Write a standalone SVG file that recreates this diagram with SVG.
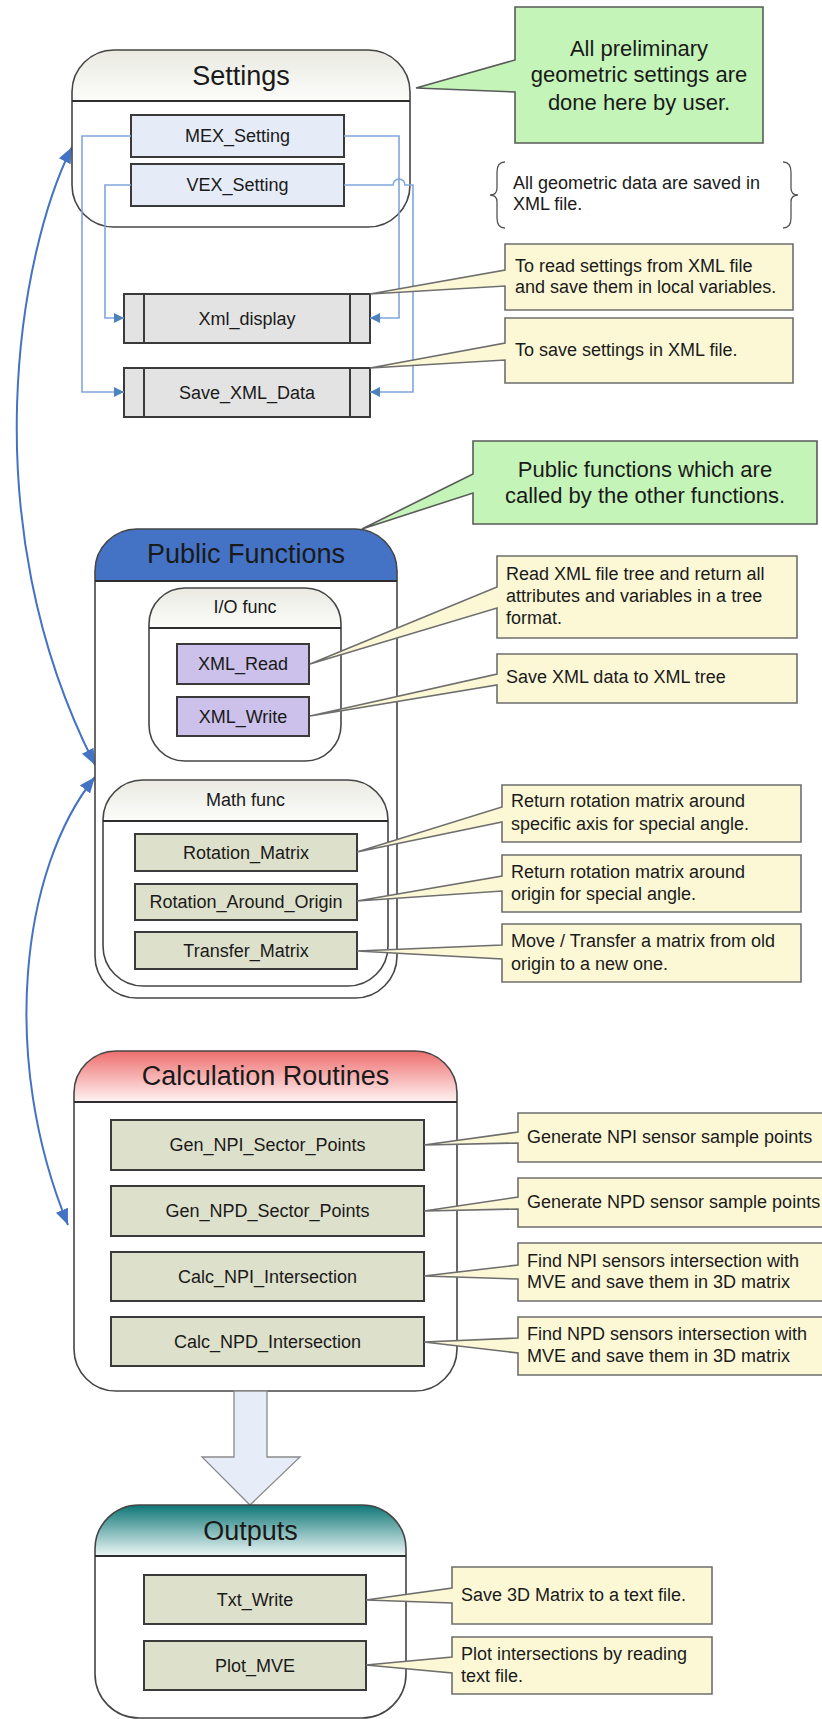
<svg xmlns="http://www.w3.org/2000/svg" width="822" height="1719" viewBox="0 0 822 1719">
<style>
text{font-family:"Liberation Sans",Arial,sans-serif;fill:#1a1a1a}
.body{fill:#fff;stroke:none}
.outline{fill:none;stroke:#454545;stroke-width:1.6}
.hl{stroke:#2e2e2e;stroke-width:2}
.title{font-size:27px;text-anchor:middle}
.sub{font-size:18px;text-anchor:middle}
.n{stroke:#3a3a3a;stroke-width:2}
.nt{font-size:18px;text-anchor:middle}
.co{fill:#FCF8D6;stroke:#6e6e6e;stroke-width:1.6;stroke-linejoin:miter}
.cg{fill:#C4F4B8;stroke:#5a5a5a;stroke-width:1.6}
.ct{font-size:18px}
.gt{font-size:22px;text-anchor:middle}
.conn{fill:none;stroke:#7FA6DC;stroke-width:1.6}
.curve{fill:none;stroke:#4472C4;stroke-width:2}
.blue{fill:#E5ECF8}
.grey{fill:#E3E3E3}
.lav{fill:#CCC1EA}
.olive{fill:#DDE0CA}
</style>
<defs>
<linearGradient id="gLight" x1="0" y1="0" x2="0" y2="1"><stop offset="0" stop-color="#EAEAE2"/><stop offset="1" stop-color="#FCFCFA"/></linearGradient>
<linearGradient id="gRed" x1="0" y1="0" x2="0" y2="1"><stop offset="0" stop-color="#EE6E6E"/><stop offset="1" stop-color="#FFF3F3"/></linearGradient>
<linearGradient id="gTeal" x1="0" y1="0" x2="0" y2="1"><stop offset="0" stop-color="#0E7676"/><stop offset="1" stop-color="#EEF7F7"/></linearGradient>
<marker id="arr" markerUnits="userSpaceOnUse" markerWidth="10" markerHeight="10" refX="10" refY="5" orient="auto"><path d="M0,0 L10,5 L0,10 Z" fill="#4F81BD"/></marker>
<marker id="big" markerUnits="userSpaceOnUse" markerWidth="16" markerHeight="13" refX="16" refY="6.5" orient="auto-start-reverse"><path d="M0,0 L16,6.5 L0,13 Z" fill="#4472C4"/></marker>
</defs>

<g id="links-curves">
<path class="curve" d="M72,147 C20,250 -30,520 95,765" marker-start="url(#big)" marker-end="url(#big)"/>
<path class="curve" d="M95,777 C20,870 0,1060 68,1225" marker-start="url(#big)" marker-end="url(#big)"/>
</g>

<g id="settings">
<rect class="body" x="72" y="50" width="338" height="177" rx="42"/>
<path d="M72,101 V92 A42,42 0 0 1 114,50 H368 A42,42 0 0 1 410,92 V101 Z" fill="url(#gLight)"/>
<rect class="outline" x="72" y="50" width="338" height="177" rx="42"/>
<line class="hl" x1="72" y1="101" x2="410" y2="101"/>
<text class="title" x="241" y="84.5">Settings</text>
</g>

<g id="mex-setting">
<rect class="n blue" x="131" y="115" width="213" height="42"/>
<text class="nt" x="237.5" y="142.3">MEX_Setting</text>
</g>
<g id="vex-setting">
<rect class="n blue" x="131" y="164" width="213" height="42"/>
<text class="nt" x="237.5" y="191.3">VEX_Setting</text>
</g>
<g id="xml-display">
<rect class="n grey" x="124" y="294" width="246" height="49"/>
<line class="n" x1="144" y1="294" x2="144" y2="343"/>
<line class="n" x1="350" y1="294" x2="350" y2="343"/>
<text class="nt" x="247" y="324.5">Xml_display</text>
</g>
<g id="save-xml-data">
<rect class="n grey" x="124" y="368" width="246" height="49"/>
<line class="n" x1="144" y1="368" x2="144" y2="417"/>
<line class="n" x1="350" y1="368" x2="350" y2="417"/>
<text class="nt" x="247" y="398.5">Save_XML_Data</text>
</g>

<g id="connectors">
<path class="conn" d="M131,136 H82 V392 H124" marker-end="url(#arr)"/>
<path class="conn" d="M131,185 H105 V318 H124" marker-end="url(#arr)"/>
<path class="conn" d="M344,136 H399 V318 H370" marker-end="url(#arr)"/>
<path class="conn" d="M344,185 H393 A6,6 0 0 1 405,185 H413 V392 H370" marker-end="url(#arr)"/>
</g>

<g id="note-settings">
<path class="cg" d="M515,7 H763 V143 H515 V92 L416,88 L515,60 Z"/>
<text class="gt" x="639" y="56">All preliminary</text>
<text class="gt" x="639" y="82">geometric settings are</text>
<text class="gt" x="639" y="110">done here by user.</text>
</g>

<g id="note-xml">
<path fill="none" stroke="#555" stroke-width="1.3" d="M505,162 Q497,162 497,172 V188 Q497,195 490,195 Q497,195 497,202 V218 Q497,228 505,228"/>
<path fill="none" stroke="#555" stroke-width="1.3" d="M783,162 Q791,162 791,172 V188 Q791,195 798,195 Q791,195 791,202 V218 Q791,228 783,228"/>
<text class="ct" x="513" y="189.3">All geometric data are saved in</text>
<text class="ct" x="513" y="210.3">XML file.</text>
</g>

<g id="note-xml-display">
<path class="co" d="M505,244 H793 V310 H505 V286 L370,294 L505,270 Z"/>
<text class="ct" x="515" y="272.3">To read settings from XML file</text>
<text class="ct" x="515" y="293.3">and save them in local variables.</text>
</g>
<g id="note-save-xml">
<path class="co" d="M505,318 H793 V383 H505 V360 L370,368 L505,343 Z"/>
<text class="ct" x="515" y="356.3">To save settings in XML file.</text>
</g>

<g id="public-functions">
<rect class="body" x="95" y="529" width="302" height="469" rx="42"/>
<path d="M95,581 V571 A42,42 0 0 1 137,529 H355 A42,42 0 0 1 397,571 V581 Z" fill="#4472C4"/>
<rect class="outline" x="95" y="529" width="302" height="469" rx="42"/>
<line class="hl" x1="95" y1="581" x2="397" y2="581"/>
<text class="title" x="246" y="562.5">Public Functions</text>
</g>

<g id="note-public">
<path class="cg" d="M473,441 H817 V524 H473 V493 L362,529 L473,474 Z"/>
<text class="gt" x="645" y="476.7">Public functions which are</text>
<text class="gt" x="645" y="502.7">called by the other functions.</text>
</g>

<g id="io-func">
<rect class="body" x="149" y="588" width="192" height="173" rx="36"/>
<path d="M149,628 V624 A36,36 0 0 1 185,588 H305 A36,36 0 0 1 341,624 V628 Z" fill="url(#gLight)"/>
<rect class="outline" x="149" y="588" width="192" height="173" rx="36"/>
<line class="hl" x1="149" y1="628" x2="341" y2="628"/>
<text class="sub" x="245" y="613.3">I/O func</text>
</g>
<g id="xml-read">
<rect class="n lav" x="177" y="644" width="132" height="40"/>
<text class="nt" x="243" y="670.3">XML_Read</text>
</g>
<g id="xml-write">
<rect class="n lav" x="177" y="697" width="132" height="39"/>
<text class="nt" x="243" y="722.8">XML_Write</text>
</g>

<g id="math-func">
<rect class="body" x="103" y="780" width="285" height="206" rx="40"/>
<path d="M103,821 V820 A40,40 0 0 1 143,780 H348 A40,40 0 0 1 388,820 V821 Z" fill="url(#gLight)"/>
<rect class="outline" x="103" y="780" width="285" height="206" rx="40"/>
<line class="hl" x1="103" y1="821" x2="388" y2="821"/>
<text class="sub" x="245.5" y="806.3">Math func</text>
</g>
<g id="rotation-matrix">
<rect class="n olive" x="135" y="834" width="222" height="37"/>
<text class="nt" x="246" y="858.8">Rotation_Matrix</text>
</g>
<g id="rotation-around-origin">
<rect class="n olive" x="135" y="884" width="222" height="36"/>
<text class="nt" x="246" y="908.3">Rotation_Around_Origin</text>
</g>
<g id="transfer-matrix">
<rect class="n olive" x="135" y="932" width="222" height="37"/>
<text class="nt" x="246" y="956.8">Transfer_Matrix</text>
</g>

<g id="note-xml-read">
<path class="co" d="M497,556 H797 V638 H497 V608 L310,664 L497,587 Z"/>
<text class="ct" x="506" y="580.3">Read XML file tree and return all</text>
<text class="ct" x="506" y="602.3">attributes and variables in a tree</text>
<text class="ct" x="506" y="624.3">format.</text>
</g>
<g id="note-xml-write">
<path class="co" d="M497,654 H797 V703 H497 V685 L310,716 L497,674 Z"/>
<text class="ct" x="506" y="683.3">Save XML data to XML tree</text>
</g>
<g id="note-rotation-matrix">
<path class="co" d="M502,785 H801 V842 H502 V822 L357,852 L502,807 Z"/>
<text class="ct" x="511" y="807.3">Return rotation matrix around</text>
<text class="ct" x="511" y="830.3">specific axis for special angle.</text>
</g>
<g id="note-rotation-origin">
<path class="co" d="M502,855 H801 V912 H502 V891 L357,901 L502,876 Z"/>
<text class="ct" x="511" y="878.3">Return rotation matrix around</text>
<text class="ct" x="511" y="900.3">origin for special angle.</text>
</g>
<g id="note-transfer">
<path class="co" d="M502,924 H801 V982 H502 V959 L357,951 L502,945 Z"/>
<text class="ct" x="511" y="947.3">Move / Transfer a matrix from old</text>
<text class="ct" x="511" y="970.3">origin to a new one.</text>
</g>

<g id="calculation-routines">
<rect class="body" x="74" y="1051" width="383" height="340" rx="42"/>
<path d="M74,1102 V1093 A42,42 0 0 1 116,1051 H415 A42,42 0 0 1 457,1093 V1102 Z" fill="url(#gRed)"/>
<rect class="outline" x="74" y="1051" width="383" height="340" rx="42"/>
<line class="hl" x1="74" y1="1102" x2="457" y2="1102"/>
<text class="title" x="265.5" y="1084.5">Calculation Routines</text>
</g>
<g id="gen-npi">
<rect class="n olive" x="111" y="1120" width="313" height="50"/>
<text class="nt" x="267.5" y="1151.3">Gen_NPI_Sector_Points</text>
</g>
<g id="gen-npd">
<rect class="n olive" x="111" y="1186" width="313" height="50"/>
<text class="nt" x="267.5" y="1217.3">Gen_NPD_Sector_Points</text>
</g>
<g id="calc-npi">
<rect class="n olive" x="111" y="1252" width="313" height="49"/>
<text class="nt" x="267.5" y="1282.8">Calc_NPI_Intersection</text>
</g>
<g id="calc-npd">
<rect class="n olive" x="111" y="1317" width="313" height="49"/>
<text class="nt" x="267.5" y="1347.8">Calc_NPD_Intersection</text>
</g>

<g id="note-gen-npi">
<path class="co" d="M518,1113 H830 V1162 H518 V1143 L424,1145 L518,1132 Z"/>
<text class="ct" x="527" y="1143.3">Generate NPI sensor sample points</text>
</g>
<g id="note-gen-npd">
<path class="co" d="M518,1178 H830 V1227 H518 V1209 L424,1211 L518,1197 Z"/>
<text class="ct" x="527" y="1208.3">Generate NPD sensor sample points</text>
</g>
<g id="note-calc-npi">
<path class="co" d="M518,1243 H830 V1301 H518 V1279 L424,1276 L518,1265 Z"/>
<text class="ct" x="527" y="1267.3">Find NPI sensors intersection with</text>
<text class="ct" x="527" y="1288.3">MVE and save them in 3D matrix</text>
</g>
<g id="note-calc-npd">
<path class="co" d="M518,1317 H830 V1375 H518 V1353 L424,1342 L518,1338 Z"/>
<text class="ct" x="527" y="1340.3">Find NPD sensors intersection with</text>
<text class="ct" x="527" y="1362.3">MVE and save them in 3D matrix</text>
</g>

<g id="flow-arrow">
<polygon points="234,1391 267,1391 267,1457 300,1457 250,1505 202,1457 234,1457" fill="#E6EDF8" stroke="#8a8a8a" stroke-width="1.3"/>
</g>

<g id="outputs">
<rect class="body" x="95" y="1505" width="311" height="213" rx="44"/>
<path d="M95,1556 V1549 A44,44 0 0 1 139,1505 H362 A44,44 0 0 1 406,1549 V1556 Z" fill="url(#gTeal)"/>
<rect class="outline" x="95" y="1505" width="311" height="213" rx="44"/>
<line class="hl" x1="95" y1="1556" x2="406" y2="1556"/>
<text class="title" x="250.5" y="1539.5">Outputs</text>
</g>
<g id="txt-write">
<rect class="n olive" x="144" y="1575" width="222" height="49"/>
<text class="nt" x="255" y="1605.8">Txt_Write</text>
</g>
<g id="plot-mve">
<rect class="n olive" x="144" y="1641" width="222" height="49"/>
<text class="nt" x="255" y="1671.8">Plot_MVE</text>
</g>
<g id="note-txt-write">
<path class="co" d="M452,1567 H712 V1624 H452 V1603 L366,1600 L452,1588 Z"/>
<text class="ct" x="461" y="1601.3">Save 3D Matrix to a text file.</text>
</g>
<g id="note-plot">
<path class="co" d="M452,1637 H712 V1694 H452 V1673 L366,1665 L452,1657 Z"/>
<text class="ct" x="461" y="1660.3">Plot intersections by reading</text>
<text class="ct" x="461" y="1682.3">text file.</text>
</g>
</svg>
